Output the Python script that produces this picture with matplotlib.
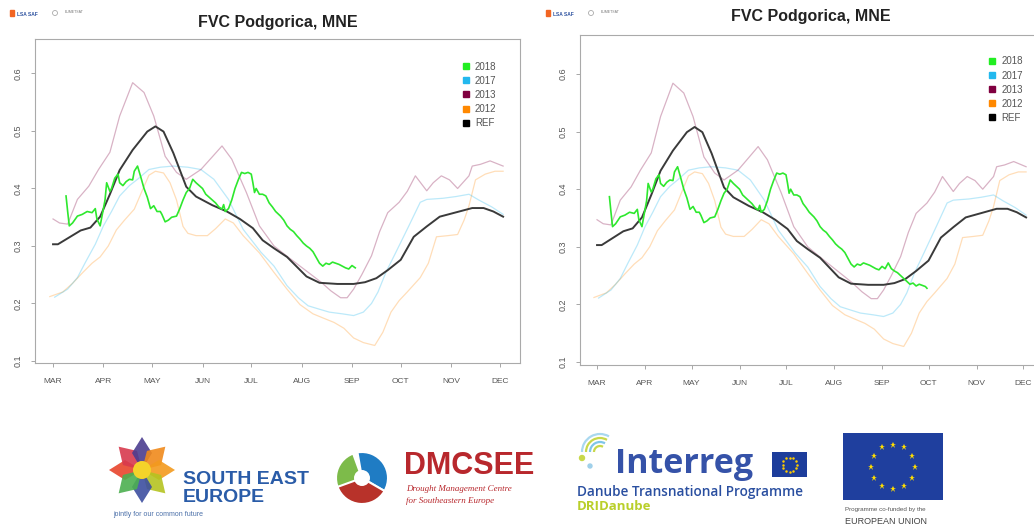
import numpy as np
import matplotlib.pyplot as plt
from matplotlib.lines import Line2D
from matplotlib.patches import Rectangle, Polygon, Wedge, Circle, Arc

plt.rcParams['font.family'] = ['Liberation Sans', 'DejaVu Sans']

W, H = 1034, 527

# --- data (day of year, FVC) ---
months = ['MAR', 'APR', 'MAY', 'JUN', 'JUL', 'AUG', 'SEP', 'OCT', 'NOV', 'DEC']
month_days = [60, 91, 121, 152, 182, 213, 244, 274, 305, 335]

days_ref = [60, 63, 70, 77, 83, 89, 95, 101, 109, 118, 123, 128, 134, 142, 148, 158, 167, 175,
            183, 189, 196, 204, 216, 224, 235, 245, 252, 259, 266, 274, 282, 290, 298, 306,
            318, 325, 331, 337]
fvc_ref = [0.303, 0.303, 0.315, 0.327, 0.332, 0.351, 0.39, 0.432, 0.467, 0.499, 0.508, 0.499,
           0.462, 0.403, 0.386, 0.371, 0.360, 0.347, 0.331, 0.310, 0.296, 0.281, 0.247, 0.236,
           0.234, 0.234, 0.237, 0.244, 0.258, 0.276, 0.316, 0.334, 0.351, 0.357, 0.366, 0.366,
           0.36, 0.351]

days_13 = [60, 64, 69, 75, 82, 88, 95, 101, 105, 109, 116, 122, 129, 136, 142, 151, 158, 164,
           170, 179, 187, 196, 205, 212, 219, 225, 231, 237, 241, 245, 250, 256, 261, 266, 273,
           278, 283, 290, 294, 299, 304, 309, 316, 318, 323, 329, 337]
fvc_13 = [0.347, 0.34, 0.338, 0.381, 0.404, 0.433, 0.463, 0.526, 0.555, 0.584, 0.567, 0.526,
          0.456, 0.428, 0.416, 0.433, 0.455, 0.474, 0.451, 0.393, 0.335, 0.30, 0.28, 0.265,
          0.25, 0.237, 0.222, 0.21, 0.21, 0.225, 0.25, 0.283, 0.325, 0.358, 0.376, 0.395,
          0.422, 0.396, 0.41, 0.422, 0.415, 0.40, 0.422, 0.439, 0.442, 0.448, 0.439]

days_17 = [61, 69, 75, 80, 86, 91, 96, 101, 107, 112, 119, 126, 134, 143, 151, 159, 168, 177,
           188, 196, 204, 211, 217, 224, 230, 238, 245, 251, 256, 260, 265, 271, 279, 286, 290,
           300, 308, 316, 322, 330, 337]
fvc_17 = [0.211, 0.225, 0.245, 0.272, 0.303, 0.335, 0.36, 0.387, 0.405, 0.416, 0.433, 0.437,
          0.439, 0.437, 0.433, 0.416, 0.381, 0.329, 0.289, 0.265, 0.231, 0.21, 0.196, 0.19,
          0.185, 0.182, 0.179, 0.185, 0.2, 0.22, 0.255, 0.289, 0.335, 0.376, 0.381, 0.383,
          0.386, 0.39, 0.38, 0.368, 0.355]

days_12 = [58, 66, 72, 78, 84, 89, 94, 99, 104, 110, 115, 119, 123, 128, 132, 136, 140, 143,
           148, 155, 160, 166, 171, 177, 187, 196, 204, 212, 220, 226, 233, 239, 245, 251, 258,
           263, 268, 273, 278, 286, 291, 296, 303, 309, 313, 316, 320, 326, 332, 337]
fvc_12 = [0.212, 0.22, 0.235, 0.253, 0.27, 0.281, 0.30, 0.328, 0.345, 0.364, 0.397, 0.423,
          0.43, 0.427, 0.41, 0.38, 0.334, 0.322, 0.318, 0.318, 0.33, 0.347, 0.34, 0.318, 0.288,
          0.254, 0.225, 0.198, 0.182, 0.175, 0.167, 0.157, 0.14, 0.132, 0.127, 0.15, 0.185,
          0.205, 0.22, 0.245, 0.27, 0.316, 0.318, 0.32, 0.345, 0.37, 0.415, 0.425, 0.43, 0.43]

days_18 = [68, 69, 70, 72, 75, 78, 81, 84, 86, 87, 89, 90, 92, 93, 95, 96, 98, 100, 101, 103,
           105, 107, 109, 110, 112, 114, 116, 118, 120, 122, 124, 126, 127, 129, 131, 133, 136,
           138, 140, 142, 144, 146, 148, 150, 152, 154, 156, 158, 160, 162, 164, 165, 166, 168,
           170, 172, 174, 176, 178, 180, 182, 183, 184, 185, 187, 189, 191, 193, 195, 197, 200,
           202, 204, 206, 208, 210, 212, 214, 216, 218, 220, 222, 224, 226, 228, 230, 232, 234,
           236, 238, 240, 242, 244, 246, 248, 250, 252, 254, 256, 258, 260, 262, 264, 266, 268,
           270, 272, 273]
fvc_18 = [0.387, 0.36, 0.335, 0.34, 0.352, 0.355, 0.36, 0.358, 0.365, 0.347, 0.335, 0.35, 0.38,
          0.41, 0.395, 0.40, 0.418, 0.425, 0.41, 0.405, 0.412, 0.416, 0.415, 0.43, 0.439, 0.42,
          0.40, 0.385, 0.365, 0.37, 0.36, 0.36, 0.355, 0.342, 0.345, 0.35, 0.352, 0.365, 0.38,
          0.393, 0.40, 0.416, 0.41, 0.405, 0.40, 0.39, 0.385, 0.38, 0.375, 0.368, 0.364, 0.372,
          0.36, 0.365, 0.38, 0.40, 0.415, 0.428, 0.426, 0.428, 0.425, 0.41, 0.393, 0.40, 0.39,
          0.39, 0.387, 0.375, 0.368, 0.36, 0.352, 0.345, 0.335, 0.329, 0.325, 0.318, 0.312,
          0.305, 0.30, 0.296, 0.29, 0.28, 0.27, 0.265, 0.27, 0.268, 0.272, 0.27, 0.268, 0.265,
          0.262, 0.26, 0.266, 0.262, 0.272, 0.262, 0.258, 0.255, 0.25, 0.245, 0.24, 0.235,
          0.237, 0.232, 0.235, 0.233, 0.231, 0.228]

labels = ['2018', '2017', '2013', '2012', 'REF']
colors = ['#22ee22', '#22b8ee', '#800040', '#ff8800', '#000000']


def panel(ax, end18, xlim, ylim, leg_anchor):
    ax.plot(days_12, fvc_12, color=colors[3], alpha=0.28, lw=0.9)
    ax.plot(days_17, fvc_17, color=colors[1], alpha=0.3, lw=0.9)
    ax.plot(days_13, fvc_13, color=colors[2], alpha=0.3, lw=0.9)
    ax.plot(days_ref, fvc_ref, color='#3a3a3a', lw=1.4)
    d = np.array(days_18)
    v = np.array(fvc_18)
    m = d <= end18
    ax.plot(d[m], v[m], color='#2ee82e', lw=1.2)
    ax.set_xlim(*xlim)
    ax.set_ylim(*ylim)
    ax.set_xticks(month_days)
    ax.set_xticklabels(months)
    ax.set_yticks([0.1, 0.2, 0.3, 0.4, 0.5, 0.6])
    ax.set_yticklabels(['0.1', '0.2', '0.3', '0.4', '0.5', '0.6'], rotation=90, va='center')
    ax.tick_params(colors='#999999', labelcolor='#555555', labelsize=6.5, length=3, width=0.6)
    ax.tick_params(axis='x', pad=8, labelsize=6)
    ax.tick_params(axis='y', pad=6)
    for s in ax.spines.values():
        s.set_color('#aaaaaa')
        s.set_linewidth(0.8)
    handles = [Line2D([], [], ls='none', marker='s', markersize=5, color=c) for c in colors]
    ax.legend(handles, labels, loc='upper left', bbox_to_anchor=leg_anchor, frameon=False,
              fontsize=7, labelcolor='#555555', handlelength=0.8, handletextpad=0.55,
              labelspacing=0.42, borderpad=0, borderaxespad=0)


fig = plt.figure(figsize=(W / 100, H / 100), dpi=100)

ax1 = fig.add_axes([35 / W, 1 - 363 / H, 485 / W, 324 / H])
panel(ax1, 247, (48.9, 347.4), (0.0965, 0.66), (0.88, 0.93))
ax2 = fig.add_axes([580 / W, 1 - 365 / H, 456 / W, 330 / H])
panel(ax2, 273, (49.0, 343.4), (0.0948, 0.6677), (0.895, 0.935))

fig.text(278 / W, 1 - 22 / H, 'FVC Podgorica, MNE', ha='center', va='center',
         fontsize=11.5, fontweight='bold', color='#222222')
fig.text(811 / W, 1 - 17 / H, 'FVC Podgorica, MNE', ha='center', va='center',
         fontsize=11.5, fontweight='bold', color='#222222')

# overlay in pixel coordinates for the small logos (y grows downwards)
lx = fig.add_axes([0, 0, 1, 1], zorder=-1)
lx.set_xlim(0, W)
lx.set_ylim(H, 0)
lx.axis('off')

for x0 in (10, 546):
    lx.add_patch(Rectangle((x0, 10), 4, 6, color='#f26522'))
    lx.text(x0 + 7, 14, 'LSA SAF', fontsize=3.5, color='#2a4f9e', fontweight='bold', va='center')
    lx.add_patch(Circle((x0 + 45, 13), 2.5, fill=False, ec='#aaaaaa', lw=0.6))
    lx.text(x0 + 55, 12, 'EUMETSAT', fontsize=2.5, color='#777777', va='center')

# South East Europe star: left, up-left, up, up-right, right, down-right, down, down-left
cx, cy = 142, 470
petal_cols = ['#e8452c', '#d83a4e', '#4b3d8f', '#f08a1c', '#f39a1e', '#b5c421', '#3d4fa0', '#4caf50']
for k, c in enumerate(petal_cols):
    a = np.deg2rad(180 + 45 * k)
    u = np.array([np.cos(a), np.sin(a)])
    p = np.array([-u[1], u[0]])
    pts = [(cx, cy), (cx + 17 * u[0] + 10 * p[0], cy + 17 * u[1] + 10 * p[1]),
           (cx + 33 * u[0], cy + 33 * u[1]), (cx + 17 * u[0] - 10 * p[0], cy + 17 * u[1] - 10 * p[1])]
    lx.add_patch(Polygon(pts, closed=True, color=c, alpha=0.9, lw=0))
lx.add_patch(Circle((cx, cy), 9, color='#f4d32a', lw=0))
lx.text(183, 480, 'SOUTH EAST', fontsize=14, fontweight='bold', color='#2a5ca8', va='center')
lx.text(183, 498, 'EUROPE', fontsize=14, fontweight='bold', color='#2a5ca8', va='center')
lx.text(113, 515, 'jointly for our common future', fontsize=5, color='#4a6fa8', va='center')

# DMCSEE (angles mirrored because y is inverted)
dx, dy = 362, 478
lx.add_patch(Wedge((dx, dy), 26, 125, 250, color='#7dbb4a', ec='white', lw=1.5))
lx.add_patch(Wedge((dx, dy), 26, -100, 30, color='#1f7cc4', ec='white', lw=1.5))
lx.add_patch(Wedge((dx, dy), 26, 30, 160, color='#b8322a', ec='white', lw=1.5))
lx.add_patch(Circle((dx, dy), 8, color='white', lw=0))
lx.text(404, 466, 'DMCSEE', fontsize=22, fontweight='bold', color='#b8282d', va='center')
lx.text(406, 489, 'Drought Management Centre', fontsize=6.5, style='italic', color='#b8282d',
        family='Liberation Serif', va='center')
lx.text(406, 501, 'for Southeastern Europe', fontsize=6.5, style='italic', color='#b8282d',
        family='Liberation Serif', va='center')

# Interreg
for r, c in [(6, '#c8d84a'), (10, '#7fc6e8'), (14, '#c8d84a'), (18, '#a9d8ef')]:
    lx.add_patch(Arc((600, 452), 2 * r, 2 * r, theta1=180, theta2=300, color=c, lw=1.6))
lx.add_patch(Circle((582, 458), 2.5, color='#c8d84a'))
lx.add_patch(Circle((590, 466), 2, color='#9fd0ea'))
lx.text(615, 464, 'Interreg', fontsize=24.5, fontweight='bold', color='#3552a8', va='center',
        family='Open Sans')
lx.add_patch(Rectangle((772, 452), 35, 25, color='#1d3d9b', lw=0))
for k in range(12):
    a = 2 * np.pi * k / 12
    lx.plot(789.5 + 7 * np.cos(a), 464.5 + 7 * np.sin(a), marker='o', ms=0.8, color='#ffcc00')
lx.text(577, 492, 'Danube Transnational Programme', fontsize=9.8, color='#2a4fa0', va='center',
        family='Open Sans', fontweight='semibold')
lx.text(577, 507, 'DRIDanube', fontsize=9.5, fontweight='bold', color='#b9cf2a', va='center',
        family='Open Sans')

# EU flag
lx.add_patch(Rectangle((843, 433), 100, 67, color='#1f3f9e', lw=0))
for k in range(12):
    a = 2 * np.pi * k / 12
    lx.plot(893 + 22 * np.cos(a), 466.5 + 22 * np.sin(a), marker='*', ms=5, color='#ffdd00', mew=0)
lx.text(845, 510, 'Programme co-funded by the', fontsize=4.5, color='#555555', va='center')
lx.text(845, 521, 'EUROPEAN UNION', fontsize=6.5, color='#444444', va='center')

fig.savefig('out.png', dpi=100)
